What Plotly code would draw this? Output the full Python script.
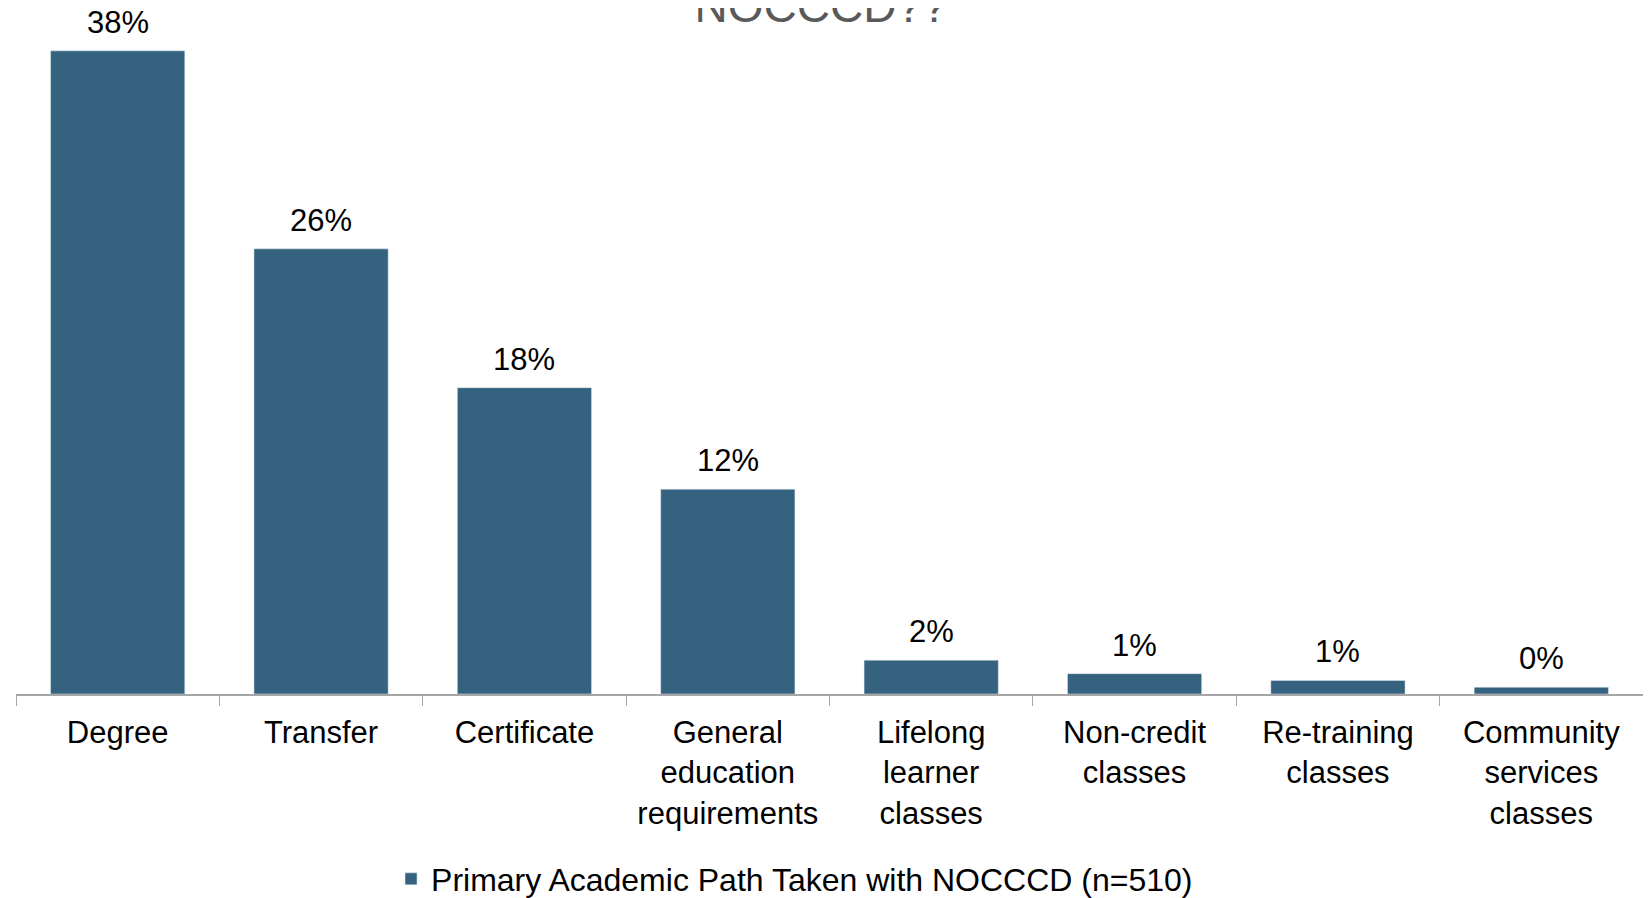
import plotly.graph_objects as go

categories = ["Degree", "Transfer", "Certificate", "General<br>education<br>requirements",
              "Lifelong<br>learner<br>classes", "Non-credit<br>classes", "Re-training<br>classes",
              "Community<br>services<br>classes"]
values = [38.0, 26.3, 18.1, 12.1, 2.0, 1.2, 0.8, 0.4]
labels = ["38%", "26%", "18%", "12%", "2%", "1%", "1%", "0%"]
series_name = "Primary Academic Path Taken with NOCCCD (n=510)"

fig = go.Figure()
fig.add_trace(go.Bar(
    x=categories,
    y=values,
    name=series_name,
    marker=dict(color="#35627f"),
))

# value labels above bars
for c, v, t in zip(categories, values, labels):
    fig.add_annotation(x=c, y=v, text=t, showarrow=False,
                       yanchor="bottom", yshift=9,
                       font=dict(size=31, color="black"))

fig.update_layout(
    width=1651, height=898,
    margin=dict(l=8, r=16, t=9, b=212, autoexpand=False),
    plot_bgcolor="white", paper_bgcolor="white",
    font=dict(family="Liberation Sans, Arial", size=31, color="black"),
    bargap=0.34,
    title=dict(text="NOCCCD??", x=0.4925, xanchor="center",
               y=0.9845, yanchor="bottom", yref="container",
               font=dict(size=46, color="#595959")),
    showlegend=True,
    legend=dict(orientation="h", xref="container", yref="container",
                x=0.232, xanchor="left", y=0.03, yanchor="middle",
                font=dict(size=32)),
)
fig.update_xaxes(showline=True, linecolor="#a6a6a6", linewidth=1.5,
                 ticks="outside", tickson="boundaries", ticklen=10,
                 tickcolor="#a6a6a6", ticklabelstandoff=10,
                 tickfont=dict(size=31, color="black"))
fig.update_yaxes(range=[0, 40], visible=False, showgrid=False)

fig.write_html("out.html")
